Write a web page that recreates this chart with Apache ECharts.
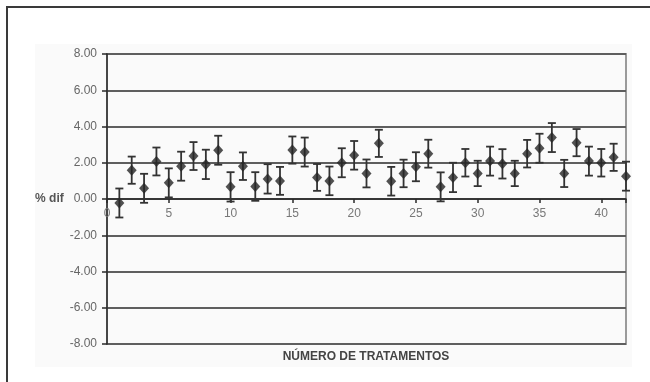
<!DOCTYPE html>
<html>
<head>
<meta charset="utf-8">
<script src="https://cdn.jsdelivr.net/npm/echarts@6/dist/echarts.min.js"></script>
<style>
  html, body { margin: 0; padding: 0; background: #ffffff; }
  #chart { width: 650px; height: 382px; }
</style>
</head>
<body>
<div id="chart"></div>
<script>
// Treatment numbers 1..42
const treatments = [1,2,3,4,5,6,7,8,9,10,11,12,13,14,15,16,17,18,19,20,21,
                    22,23,24,25,26,27,28,29,30,31,32,33,34,35,36,37,38,39,40,41,42];
// Mean % difference per treatment
const meanDiff = [-0.22,1.59,0.59,2.07,0.89,1.81,2.37,1.91,2.69,0.67,1.81,0.69,1.11,1.00,
                  2.70,2.59,1.19,1.00,2.00,2.41,1.41,3.07,0.98,1.41,1.78,2.50,0.67,1.19,
                  2.00,1.41,2.09,1.94,1.41,2.50,2.80,3.39,1.41,3.11,2.09,2.00,2.30,1.26];
// Half-length of each error bar
const errHalf = [0.80,0.75,0.80,0.77,0.80,0.80,0.77,0.81,0.80,0.81,0.76,0.79,0.81,0.77,
                 0.75,0.80,0.74,0.79,0.80,0.79,0.77,0.75,0.79,0.76,0.80,0.77,0.80,0.81,
                 0.76,0.70,0.80,0.81,0.70,0.76,0.80,0.80,0.75,0.75,0.80,0.76,0.75,0.80];
const yTicks = [-8,-6,-4,-2,0,2,4,6,8];
const xLabelStep = 5;

const FONT = '"Liberation Sans", Arial, sans-serif';

const GRID = { left: 107, right: 24, top: 54, bottom: 38 };
const plotHeight = 382 - GRID.top - GRID.bottom;

const points = treatments.map((t, i) => [t, meanDiff[i]]);
const bars = treatments.map((t, i) => [t, meanDiff[i] - errHalf[i], meanDiff[i] + errHalf[i]]);

const chart = echarts.init(document.getElementById('chart'), null, { renderer: 'canvas' });

chart.setOption({
  animation: false,
  backgroundColor: '#ffffff',
  graphic: [
    { type: 'rect', z: -10, shape: { x: 35, y: 44, width: 597, height: 323 },
      style: { fill: '#fafafa' } },
    { type: 'rect', z: -5, shape: { x: 7, y: 7, width: 700, height: 420 },
      style: { fill: 'none', stroke: '#3a3a3a', lineWidth: 2 } },
    { type: 'text', x: 366, y: 351, z: 10,
      style: { text: 'NÚMERO DE TRATAMENTOS', textAlign: 'center', textVerticalAlign: 'top',
               fill: '#444444', font: 'bold 12px ' + FONT } }
  ],
  grid: Object.assign({ show: true, borderColor: '#9a9a9a', borderWidth: 2,
                        backgroundColor: 'transparent' }, GRID),
  xAxis: {
    type: 'value', min: 0, max: 42, interval: xLabelStep,
    // axis sits on the y = 0 line (middle of the symmetric range)
    offset: -(plotHeight / 2),
    axisLine: { onZero: false, lineStyle: { color: '#2a2a2a', width: 1.5 } },
    axisTick: { show: true, length: 4, lineStyle: { color: '#2a2a2a', width: 1.5 } },
    axisLabel: { color: '#777777', fontSize: 12, fontFamily: FONT, margin: 9,
                 formatter: v => (v % xLabelStep === 0 && v <= 40) ? String(v) : '' },
    splitLine: { show: false }
  },
  yAxis: {
    type: 'value', min: yTicks[0], max: yTicks[yTicks.length - 1], interval: 2,
    name: '% dif', nameLocation: 'middle', nameRotate: 0, nameGap: 43,
    nameTextStyle: { color: '#555555', fontSize: 12, fontWeight: 'bold', fontFamily: FONT },
    axisLine: { show: true, lineStyle: { color: '#2a2a2a', width: 1.5 } },
    axisTick: { show: true, length: 5, lineStyle: { color: '#2a2a2a', width: 1.5 } },
    axisLabel: { color: '#666666', fontSize: 12, fontFamily: FONT, margin: 10,
                 formatter: v => v.toFixed(2) },
    splitLine: { show: true, lineStyle: { color: '#5e5e5e', width: 2 } }
  },
  series: [
    {
      type: 'custom',
      data: bars,
      z: 3,
      renderItem: function (params, api) {
        const x = api.value(0);
        const lo = api.coord([x, api.value(1)]);
        const hi = api.coord([x, api.value(2)]);
        const cap = 4;
        const style = { stroke: '#333333', lineWidth: 1.8 };
        return {
          type: 'group',
          children: [
            { type: 'line', shape: { x1: hi[0], y1: hi[1], x2: lo[0], y2: lo[1] }, style },
            { type: 'line', shape: { x1: hi[0] - cap, y1: hi[1], x2: hi[0] + cap, y2: hi[1] }, style },
            { type: 'line', shape: { x1: lo[0] - cap, y1: lo[1], x2: lo[0] + cap, y2: lo[1] }, style }
          ]
        };
      }
    },
    {
      type: 'scatter',
      data: points,
      symbol: 'diamond',
      symbolSize: [10, 11],
      z: 4,
      itemStyle: { color: '#262626' }
    }
  ]
});
</script>
</body>
</html>
